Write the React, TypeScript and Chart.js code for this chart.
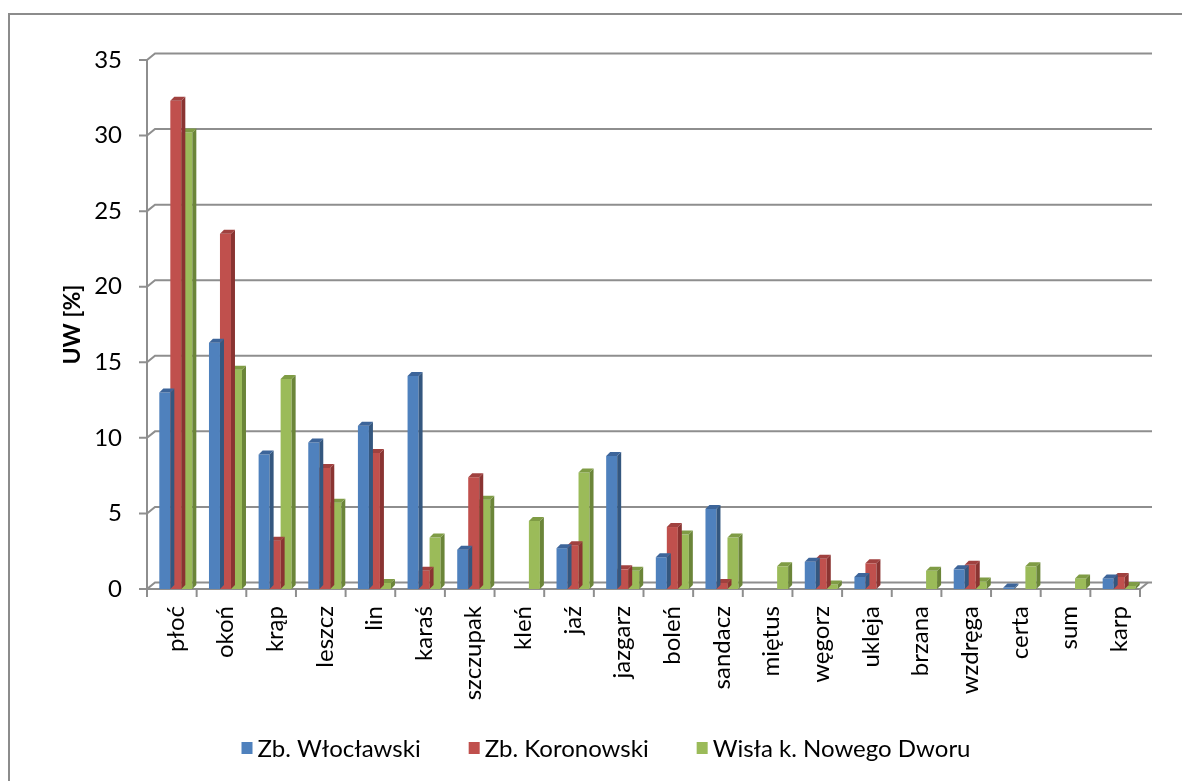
import React, { useEffect, useRef } from 'react';
import { Chart, registerables } from 'chart.js';

Chart.register(...registerables);

// ---------- data ----------
const CATEGORIES = ['płoć', 'okoń', 'krąp', 'leszcz', 'lin', 'karaś', 'szczupak', 'kleń', 'jaź', 'jazgarz', 'boleń', 'sandacz', 'miętus', 'węgorz', 'ukleja', 'brzana', 'wzdręga', 'certa', 'sum', 'karp'];
const SERIES_NAMES = ['Zb. Włocławski', 'Zb. Koronowski', 'Wisła k. Nowego Dworu'];
const WLOCLAWSKI = [13.0, 16.3, 8.9, 9.7, 10.8, 14.1, 2.6, null, 2.7, 8.8, 2.1, 5.3, null, 1.8, 0.8, null, 1.3, 0.1, null, 0.7];
const KORONOWSKI = [32.3, 23.5, 3.2, 8.0, 9.0, 1.2, 7.4, null, 2.9, 1.3, 4.1, 0.4, null, 2.0, 1.7, null, 1.6, null, null, 0.8];
const WISLA = [30.2, 14.5, 13.9, 5.7, 0.4, 3.4, 5.9, 4.5, 7.7, 1.2, 3.6, 3.4, 1.5, 0.3, null, 1.2, 0.5, 1.5, 0.7, 0.2];
const Y_MIN = 0;
const Y_MAX = 35;
const Y_STEP = 5;
const Y_TITLE = 'UW [%]';

// ---------- styles ----------
const FRONT_COLORS = ['#4F81BD', '#C0504D', '#9BBB59'];
const SIDE_COLORS = ['#34577F', '#8A3432', '#6B8539'];
const TOP_COLORS = ['#3D659A', '#A0413F', '#7F9C45'];
const GRID_COLOR = '#8e8e8e';
const FONT_FAMILY = 'Lato, "Open Sans", "DejaVu Sans", sans-serif';

const grid3d = {
  id: 'grid3d',
  beforeDatasetsDraw(chart: any) {
    const { ctx, chartArea, scales } = chart;
    const { left, right, bottom } = chartArea;
    const y = scales.y;
    const ax = left - 4;
    const dx = 8;
    const dy = 6.5;
    const n = CATEGORIES.length;
    const catW = (right - left) / n;
    ctx.save();
    ctx.strokeStyle = GRID_COLOR;
    ctx.lineWidth = 2;
    ctx.lineCap = 'butt';
    y.ticks.forEach((t: any) => {
      const py = y.getPixelForValue(t.value);
      ctx.beginPath();
      ctx.moveTo(ax - 8, py);
      ctx.lineTo(ax, py);
      ctx.lineTo(ax + dx, py - dy);
      ctx.lineTo(right + dx, py - dy);
      ctx.stroke();
    });
    // vertical axis
    ctx.beginPath();
    ctx.moveTo(ax, y.getPixelForValue(Y_MAX));
    ctx.lineTo(ax, bottom + 8);
    ctx.stroke();
    // floor front edge + right slant
    ctx.beginPath();
    ctx.moveTo(ax, bottom);
    ctx.lineTo(right - 4, bottom);
    ctx.lineTo(right - 4 + dx, bottom - dy);
    ctx.stroke();
    // category ticks
    for (let k = 0; k <= n; k++) {
      const px = left + k * catW - 4;
      ctx.beginPath();
      ctx.moveTo(px, bottom);
      ctx.lineTo(px, bottom + 8);
      ctx.stroke();
    }
    ctx.restore();
  },
};

const bars3d = {
  id: 'bars3d',
  afterDatasetDraw(chart: any, args: any) {
    const { ctx } = chart;
    const idx = args.index;
    const ds = chart.data.datasets[idx];
    const d = 4;
    ctx.save();
    args.meta.data.forEach((bar: any, i: number) => {
      const v = ds.data[i];
      if (v == null || v === 0) return;
      const { x, y, base, width } = bar.getProps(['x', 'y', 'base', 'width'], true);
      const l = x - width / 2;
      const r = x + width / 2;
      ctx.fillStyle = SIDE_COLORS[idx];
      ctx.beginPath();
      ctx.moveTo(r, y);
      ctx.lineTo(r + d, y - d);
      ctx.lineTo(r + d, base - d);
      ctx.lineTo(r, base);
      ctx.closePath();
      ctx.fill();
      ctx.fillStyle = TOP_COLORS[idx];
      ctx.beginPath();
      ctx.moveTo(l, y);
      ctx.lineTo(l + d, y - d);
      ctx.lineTo(r + d, y - d);
      ctx.lineTo(r, y);
      ctx.closePath();
      ctx.fill();
    });
    ctx.restore();
  },
};

const legendPlugin = {
  id: 'customLegend',
  afterDraw(chart: any) {
    const { ctx } = chart;
    const centerX = 606;
    const cy = 748;
    const boxW = 11;
    const boxH = 12;
    const boxGap = 5;
    const itemGap = 48;
    ctx.save();
    ctx.font = `24px ${FONT_FAMILY}`;
    ctx.textBaseline = 'middle';
    const items = chart.data.datasets.map((ds: any) => ({
      label: ds.label,
      color: ds.backgroundColor,
      w: ctx.measureText(ds.label).width,
    }));
    const total = items.reduce((s: number, it: any) => s + boxW + boxGap + it.w, 0) + itemGap * (items.length - 1);
    let x = centerX - total / 2;
    items.forEach((it: any) => {
      ctx.fillStyle = it.color;
      ctx.fillRect(x, cy - boxH / 2, boxW, boxH);
      ctx.fillStyle = '#000';
      ctx.fillText(it.label, x + boxW + boxGap, cy + 1);
      x += boxW + boxGap + it.w + itemGap;
    });
    ctx.restore();
  },
};

export default function App() {
  const ref = useRef<HTMLCanvasElement>(null);

  useEffect(() => {
    const series = [WLOCLAWSKI, KORONOWSKI, WISLA];
    const chart = new Chart(ref.current as HTMLCanvasElement, {
      type: 'bar',
      data: {
        labels: CATEGORIES,
        datasets: series.map((data, i) => ({
          label: SERIES_NAMES[i],
          data: data as any,
          backgroundColor: FRONT_COLORS[i],
          borderWidth: 0,
          categoryPercentage: 0.665,
          barPercentage: 1,
        })),
      },
      options: {
        responsive: false,
        animation: false,
        events: [],
        layout: { padding: { left: 0, top: 60, right: 38, bottom: 0 } },
        plugins: {
          legend: { display: false },
          tooltip: { enabled: false },
          title: { display: false },
        },
        scales: {
          x: {
            type: 'category',
            grid: { display: false, drawTicks: false },
            border: { display: false },
            ticks: {
              autoSkip: false,
              minRotation: 90,
              maxRotation: 90,
              padding: 17,
              color: '#000',
              font: { family: FONT_FAMILY, size: 24 },
            },
            afterFit(scale: any) {
              scale.height = 192;
            },
          },
          y: {
            min: Y_MIN,
            max: Y_MAX,
            grid: { display: false, drawTicks: false },
            border: { display: false },
            ticks: {
              stepSize: Y_STEP,
              padding: 29,
              color: '#000',
              font: { family: FONT_FAMILY, size: 24 },
            },
            title: {
              display: true,
              text: Y_TITLE,
              color: '#000',
              font: { family: FONT_FAMILY, size: 23, weight: 'bold' },
              padding: { top: 59, bottom: 0 },
            },
            afterFit(scale: any) {
              scale.width = 151;
            },
          },
        },
      },
      plugins: [grid3d, bars3d, legendPlugin],
    });
    return () => chart.destroy();
  }, []);

  return (
    <div style={{ position: 'fixed', left: 0, top: 0, width: 1182, height: 781, background: '#fff', overflow: 'hidden' }}>
      <div style={{ position: 'absolute', left: 8, top: 13, width: 1200, height: 800, border: '2px solid #8c8c8c', boxSizing: 'border-box' }} />
      <canvas ref={ref} width={1182} height={781} style={{ position: 'absolute', left: 0, top: 0 }} />
    </div>
  );
}
